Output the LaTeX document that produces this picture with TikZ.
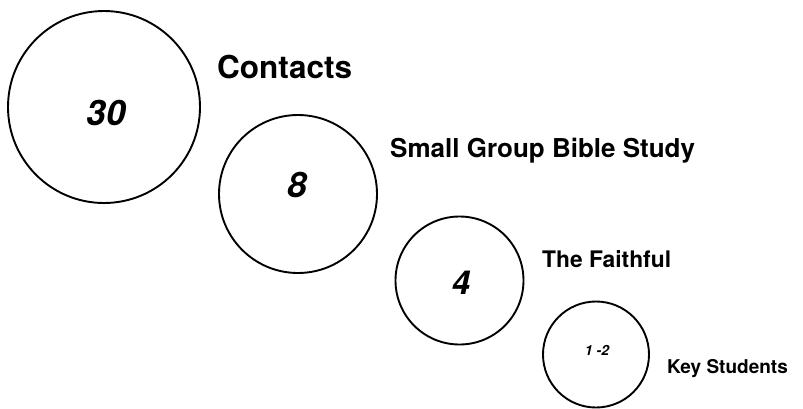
\documentclass[tikz,border=0pt]{standalone}
\usepackage{fontspec}
\setmainfont{TeX Gyre Heros}
\usetikzlibrary{positioning}

\begin{document}
\begin{tikzpicture}[
  x=1pt, y=-1pt,
  groupcircle/.style={circle, draw=black, line width=1.9pt, inner sep=0pt},
  groupcount/.style={inner sep=0pt, font=\bfseries\itshape},
  grouplabel/.style={anchor=base west, inner sep=0pt, font=\bfseries}
]
\useasboundingbox (0,0) rectangle (803,408);

% -------- CIRCLES --------
\node[groupcircle, minimum size=192pt] (c1) at (104,107) {};
\node[groupcircle, minimum size=158pt] (c2) at (298,194) {};
\node[groupcircle, minimum size=128pt] (c3) at (459.5,280.5) {};
\node[groupcircle, minimum size=106pt] (c4) at (596,354.5) {};

% -------- NUMBERS --------
\node[groupcount] (n1) at (106,112.5) {\fontsize{35}{40}\selectfont 30};
\node[groupcount] (n2) at (297,185) {\fontsize{35}{40}\selectfont 8};
\node[groupcount] (n3) at (461,283) {\fontsize{33}{38}\selectfont 4};
\node[groupcount] (n4) at (597,350) {\fontsize{14}{16}\selectfont 1 -2};

% -------- LABELS --------
\node[grouplabel] (l1) at (217,78) {\fontsize{31.5}{36}\selectfont Contacts};
\node[grouplabel] (l2) at (390,157) {\fontsize{26}{30}\selectfont Small Group Bible Study};
\node[grouplabel] (l3) at (542,267) {\fontsize{22.8}{26}\selectfont The Faithful};
\node[grouplabel] (l4) at (667,373) {\fontsize{19}{22}\selectfont Key Students};

\end{tikzpicture}
\end{document}
